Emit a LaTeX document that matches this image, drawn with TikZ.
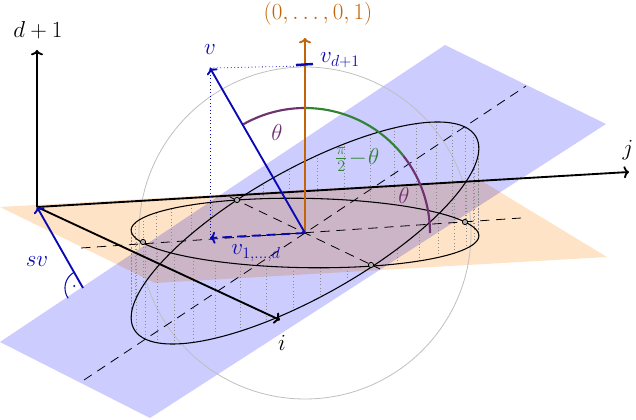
\documentclass[tikz,border=0pt]{standalone}
\usetikzlibrary{arrows.meta}
\definecolor{vb}{RGB}{10,10,180}
\definecolor{or}{RGB}{195,100,10}
\definecolor{pu}{RGB}{110,50,110}
\definecolor{gr}{RGB}{50,130,50}
\tikzset{arr/.style={line width=1.4pt,-{To[length=4pt,width=9pt]}},
dsh/.style={line width=0.6pt,dash pattern=on 7pt off 5pt},
pt/.style={circle,draw,line width=0.6pt,inner sep=1.4pt,fill=black!30},
lab/.style={font=\LARGE}}
\begin{document}
\begin{tikzpicture}[x=0.75pt,y=-0.75pt]
\useasboundingbox (0,0) rectangle (636,420);
\def\ex(#1){305+160*cos(#1)-68*sin(#1)}
\def\eyh(#1){233-11*cos(#1)-33*sin(#1)}
\def\eyt(#1){233-106*cos(#1)-33*sin(#1)}
% planes
\fill[blue!20] (0,342) -- (150,418) -- (606,124) -- (445,45) -- cycle;
\begin{scope}[blend mode=multiply]
\fill[orange!22] (0,207) -- (155,283) -- (607,257) -- (480,180) -- cycle;
\end{scope}
% sphere
\draw[black!25,line width=0.6pt] (305,233) circle[radius=166];
% dotted verticals
\foreach \t in {0,9,...,359}{
 \draw[dotted,black!45,line width=0.5pt] ({\ex(\t)},{\eyh(\t)}) -- ({\ex(\t)},{\eyt(\t)});}
% ellipses
\draw[line width=0.8pt] plot[domain=0:360,samples=120,smooth] ({\ex(\x)},{\eyh(\x)}) -- cycle;
\draw[line width=0.8pt] plot[domain=0:360,samples=120,smooth] ({\ex(\x)},{\eyt(\x)}) -- cycle;
% dashed lines
\coordinate (C) at (305,233);
\coordinate (h1) at (81,248); \coordinate (h2) at (521,218);
\coordinate (t1) at (84,380); \coordinate (t2) at (526,86);
\coordinate (b1) at (230,197); \coordinate (b2) at (380,269);
\draw[dsh] (h1) -- (h2);
\draw[dsh] (t1) -- (t2);
\draw[dsh] (b1) -- (b2);
\node[pt] (p1) at (237,200) {};
\node[pt] (p2) at (371,265) {};
\node[pt] (p3) at (143,242) {};
\node[pt] (p4) at (465,222) {};
% axes
\coordinate (O) at (37,207);
\coordinate (Z) at (37,50);
\coordinate (J) at (629,172);
\coordinate (I) at (280,320);
\draw[arr] (O) -- (Z);
\draw[arr] (O) -- (J);
\draw[arr] (O) -- (I);
\node[lab] (lz) at (38,30) {$d+1$};
\node[lab] (lj) at (628,150) {$j$};
\node[lab] (li) at (282,343) {$i$};
% angles
\draw[pu,line width=1.6pt] plot[domain=90:119.5,samples=30] ({305+125*cos(\x)},{233-125*sin(\x)});
\draw[gr,line width=1.6pt] plot[domain=38:90,samples=30] ({305+125*cos(\x)},{233-125*sin(\x)});
\draw[pu,line width=1.6pt] plot[domain=0:38,samples=30] ({305+125*cos(\x)},{233-125*sin(\x)});
\node[lab,pu] (th1) at (277,133) {$\theta$};
\node[lab,gr] (th2) at (357,160) {$\frac{\pi}{2}\!-\!\theta$};
\node[lab,pu] (th3) at (404,196) {$\theta$};
% vectors
\coordinate (V) at (210,68);
\coordinate (N) at (305,38);
\coordinate (Vp) at (210,238);
\coordinate (Vd) at (305,66);
\draw[vb,dotted,line width=0.6pt] (V) -- (Vd);
\draw[vb,dotted,line width=0.6pt] (V) -- (Vp);
\draw[or,arr] (C) -- (N);
\draw[vb,arr] (C) -- (V);
\draw[vb,arr,dash pattern=on 7pt off 4pt] (C) -- (Vp);
\draw[vb,line width=1.8pt] (296,65) -- (313,64);
\node[lab,or] (ln) at (318,14) {$(0,\ldots,0,1)$};
\node[lab,vb] (lv) at (210,50) {$v$};
\node[lab,vb] (lvd) at (340,60) {$v_{d+1}$};
\node[lab,vb] (lvp) at (256,253) {$v_{1,\ldots,d}$};
% sv
\coordinate (S) at (83,288);
\draw[vb,arr] (S) -- (O);
\node[lab,vb] (lsv) at (37,262) {$sv$};
\draw[vb,line width=0.8pt] plot[domain=119:215,samples=20] ({83+18*cos(\x)},{288-18*sin(\x)});
\fill[vb] ({83+9*cos(167)},{288-9*sin(167)}) circle[radius=1.2];
\end{tikzpicture}
\end{document}
